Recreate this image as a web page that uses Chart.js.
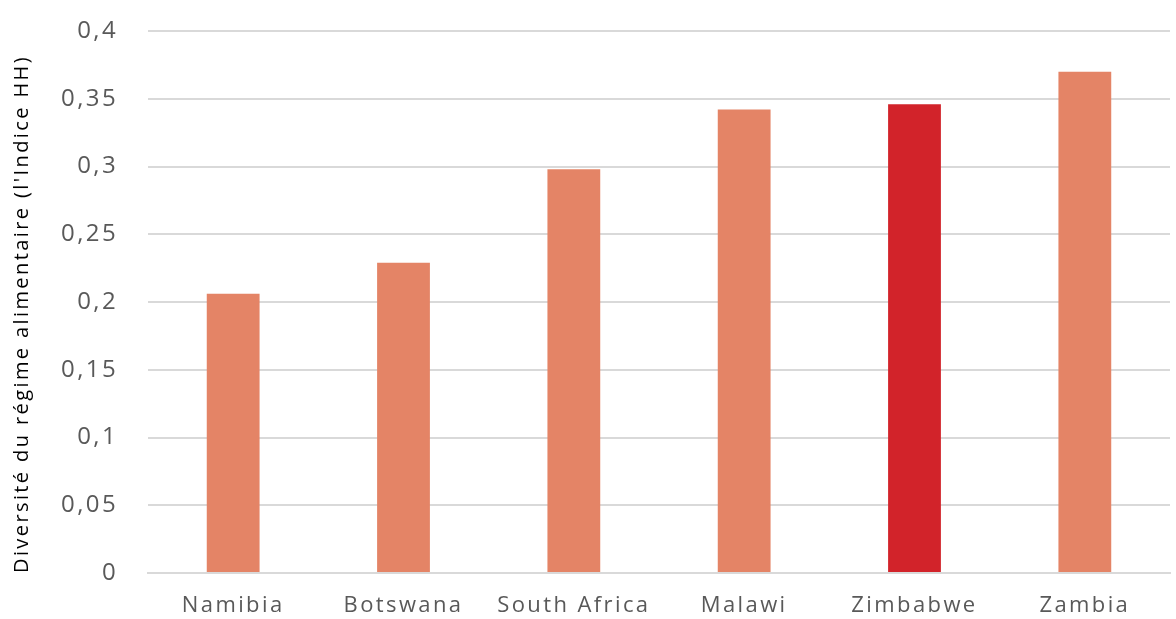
<!DOCTYPE html>
<html><head><meta charset="utf-8">
<script src="https://cdn.jsdelivr.net/npm/chart.js@4/dist/chart.umd.min.js"></script>
<style>html,body{margin:0;padding:0;background:#fff}#wrap{width:1176px;height:619px}</style>
</head><body><div id="wrap"><canvas id="c" width="1176" height="619"></canvas></div>
<script>
const categories = ['Namibia','Botswana','South Africa','Malawi','Zimbabwe','Zambia'];
const values = [0.206, 0.229, 0.298, 0.342, 0.346, 0.370];
const barColors = ['#E48466','#E48466','#E48466','#E48466','#D2232A','#E48466'];
const yTitle = "Diversité du régime alimentaire (l'Indice HH)";

const spacingPlugin = {
  id: 'spacing',
  beforeUpdate(chart) { chart.ctx.letterSpacing = '2.4px'; },
  beforeLayout(chart) { chart.ctx.letterSpacing = '2.4px'; },
  beforeDraw(chart) { chart.ctx.letterSpacing = '2.4px'; }
};

new Chart(document.getElementById('c'), {
  type: 'bar',
  data: { labels: categories, datasets: [{ data: values, backgroundColor: barColors, borderWidth: 0, categoryPercentage: 1, barPercentage: 0.31 }] },
  plugins: [spacingPlugin],
  options: {
    responsive: false, animation: false, devicePixelRatio: 1,
    layout: { padding: { top: 31, right: 6, left: 0, bottom: 0 } },
    plugins: { legend: { display: false }, tooltip: { enabled: false } },
    scales: {
      x: {
        grid: { display: false, drawTicks: false },
        border: { display: true, color: '#d9d9d9', width: 2 },
        ticks: { color: '#595959', font: { family: 'Open Sans', size: 22 }, padding: 20 },
        afterFit: s => { s.height = 46; }
      },
      y: {
        min: 0, max: 0.4,
        grid: { color: '#d9d9d9', lineWidth: 2, drawTicks: true, tickLength: 28, tickColor: 'rgba(0,0,0,0)' },
        border: { display: false },
        ticks: { stepSize: 0.05, color: '#595959', font: { family: 'Open Sans', size: 24 }, padding: 2,
          callback: v => String(Math.round(v*100)/100).replace('.', ',') },
        title: { display: true, text: yTitle, color: '#000000', align: 'start', font: { family: 'Open Sans', size: 20 }, padding: { top: 10, bottom: 0 } },
        afterFit: s => { s.width = 148; }
      }
    }
  }
});
</script></body></html>
